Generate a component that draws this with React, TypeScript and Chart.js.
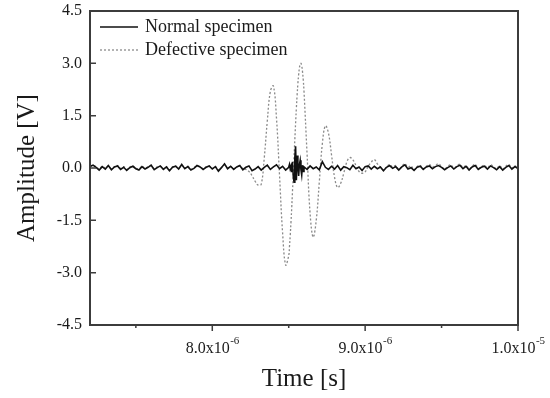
import React, { useEffect, useRef } from "react";
import { Chart, registerables } from "chart.js";

Chart.register(...registerables);

// Time axis in microseconds (labels shown as x10^-6 s)
const timeUs = [
  7.20, 7.22, 7.24, 7.26, 7.28, 7.30, 7.32, 7.34, 7.36, 7.38,
  7.40, 7.42, 7.44, 7.46, 7.48, 7.50, 7.52, 7.54, 7.56, 7.58,
  7.60, 7.62, 7.64, 7.66, 7.68, 7.70, 7.72, 7.74, 7.76, 7.78,
  7.80, 7.82, 7.84, 7.86, 7.88, 7.90, 7.92, 7.94, 7.96, 7.98,
  8.00, 8.02, 8.04, 8.06, 8.08, 8.10, 8.12, 8.14, 8.16, 8.18,
  8.20, 8.22, 8.24, 8.26, 8.28, 8.30, 8.32, 8.34, 8.36, 8.38,
  8.40, 8.42, 8.44, 8.46, 8.48,
  8.500, 8.505, 8.510, 8.515, 8.520, 8.525, 8.530, 8.535, 8.540, 8.545,
  8.550, 8.555, 8.560, 8.565, 8.570, 8.575, 8.580, 8.585, 8.590, 8.595,
  8.600,
  8.62, 8.64, 8.66, 8.68, 8.70, 8.72, 8.74, 8.76, 8.78, 8.80,
  8.82, 8.84, 8.86, 8.88, 8.90, 8.92, 8.94, 8.96, 8.98, 9.00,
  9.02, 9.04, 9.06, 9.08, 9.10, 9.12, 9.14, 9.16, 9.18, 9.20,
  9.22, 9.24, 9.26, 9.28, 9.30, 9.32, 9.34, 9.36, 9.38, 9.40,
  9.42, 9.44, 9.46, 9.48, 9.50, 9.52, 9.54, 9.56, 9.58, 9.60,
  9.62, 9.64, 9.66, 9.68, 9.70, 9.72, 9.74, 9.76, 9.78, 9.80,
  9.82, 9.84, 9.86, 9.88, 9.90, 9.92, 9.94, 9.96, 9.98, 10.00,
];

const normalV = [
  0.05, 0.08, 0.02, -0.06, 0.04, -0.03, 0.07, -0.05, 0.03, 0.06,
  -0.04, 0.02, -0.07, 0.01, 0.05, -0.02, -0.06, 0.04, -0.03, 0.02,
  0.08, -0.05, 0.01, 0.06, -0.04, 0.03, -0.08, 0.02, 0.05, -0.03,
  0.10, -0.02, 0.04, -0.06, -0.01, 0.07, 0.03, -0.04, 0.02, 0.06,
  -0.03, 0.04, -0.09, 0.01, 0.12, -0.02, 0.05, -0.04, 0.03, 0.07,
  -0.05, 0.02, 0.06, -0.08, -0.03, 0.04, -0.06, 0.02, 0.08, -0.04,
  0.03, 0.09, -0.02, 0.05, -0.06,
  0.02, 0.10, -0.03, 0.05, -0.12, 0.18, -0.25, -0.41, 0.30, 0.62,
  -0.35, 0.36, 0.05, -0.23, 0.10, 0.22, -0.05, -0.20, 0.08, -0.10,
  0.03,
  -0.04, 0.06, -0.02, 0.03, -0.05, 0.18, 0.02, -0.04, 0.05, -0.03,
  0.07, -0.06, 0.04, 0.01, -0.05, 0.08, -0.02, 0.03, -0.07, 0.04,
  0.06, -0.03, 0.05, -0.02, 0.03, -0.08, 0.02, 0.07, -0.01, 0.04,
  -0.06, 0.03, 0.09, -0.03, 0.01, -0.07, 0.02, 0.05, -0.04, 0.03,
  0.06, -0.02, 0.04, 0.07, 0.02, -0.05, 0.01, 0.06, -0.03, 0.04,
  0.08, -0.02, 0.05, -0.06, 0.03, 0.07, -0.04, 0.02, 0.05, -0.03,
  0.06, 0.01, -0.05, 0.04, -0.06, 0.02, 0.07, -0.03, 0.04, -0.02,
];

const defectiveV = [
  0.03, 0.06, 0.04, -0.03, 0.05, 0.00, 0.06, -0.02, 0.04, 0.07,
  -0.01, 0.04, -0.04, 0.03, 0.06, 0.00, -0.03, 0.05, -0.01, 0.04,
  0.07, -0.02, 0.03, 0.05, -0.02, 0.04, -0.05, 0.03, 0.06, -0.01,
  0.08, 0.00, 0.05, -0.03, 0.01, 0.06, 0.04, -0.02, 0.03, 0.05,
  -0.01, 0.04, -0.05, 0.02, 0.09, 0.00, 0.04, -0.02, 0.03, 0.05,
  -0.02, -0.04, -0.10, -0.22, -0.38, -0.49, -0.47, 0.29, 1.35, 2.20,
  2.35, 1.43, -0.22, -1.86, -2.78,
  -2.51, -2.25, -1.93, -1.54, -1.11, -0.64, -0.16, 0.33, 0.81, 1.28,
  1.71, 2.09, 2.42, 2.68, 2.87, 2.97, 3.00, 2.93, 2.77, 2.53,
  2.20,
  0.41, -1.31, -1.98, -1.50, -0.41, 0.70, 1.21, 1.00, 0.38, -0.27,
  -0.56, -0.44, -0.15, 0.17, 0.30, 0.23, 0.07, -0.10, -0.15, -0.11,
  0.05, 0.17, 0.24, 0.12, 0.02, -0.06, 0.04, 0.10, 0.03, 0.07,
  -0.04, 0.05, 0.12, 0.02, 0.06, -0.05, 0.04, 0.08, -0.02, 0.05,
  0.10, 0.03, 0.07, 0.12, 0.04, -0.03, 0.05, 0.09, 0.00, 0.06,
  0.11, 0.01, 0.07, -0.03, 0.05, 0.10, -0.01, 0.04, 0.08, 0.00,
  0.09, 0.04, -0.02, 0.07, -0.03, 0.05, 0.10, 0.00, 0.06, -0.04,
];

const seriesNames = ["Normal specimen", "Defective specimen"];
const xMajorTicks = [8, 9, 10];
const xMinorTicks = [7.5, 8.5, 9.5];
const xTickBase = ["8.0x10", "9.0x10", "1.0x10"];
const xTickExp = ["-6", "-6", "-5"];
const yTicks = [-4.5, -3.0, -1.5, 0, 1.5, 3.0, 4.5];

const SERIF = "'Liberation Serif', 'Times New Roman', serif";
const AXIS_COLOR = "#3c3c3c";
const TEXT_COLOR = "#1a1a1a";

const framePlugin = {
  id: "frameTicksLegend",
  afterDraw(chart: any) {
    const { ctx, chartArea } = chart;
    const { left, right, top, bottom } = chartArea;
    const xs = chart.scales.x;
    const ys = chart.scales.y;
    ctx.save();
    // ticks
    ctx.strokeStyle = AXIS_COLOR;
    ctx.lineWidth = 1.5;
    ctx.beginPath();
    xMajorTicks.forEach((v) => {
      const px = xs.getPixelForValue(v);
      ctx.moveTo(px, bottom);
      ctx.lineTo(px, bottom + 6);
    });
    xMinorTicks.forEach((v) => {
      const px = xs.getPixelForValue(v);
      ctx.moveTo(px, bottom);
      ctx.lineTo(px, bottom + 3);
    });
    yTicks.forEach((v) => {
      const py = ys.getPixelForValue(v);
      ctx.moveTo(left, py);
      ctx.lineTo(left + 6, py);
    });
    ctx.stroke();
    // frame
    ctx.lineWidth = 2;
    ctx.strokeRect(left, top, right - left, bottom - top);

    // x tick labels with superscript exponent
    ctx.fillStyle = TEXT_COLOR;
    ctx.textBaseline = "alphabetic";
    ctx.textAlign = "left";
    xMajorTicks.forEach((v, i) => {
      const px = xs.getPixelForValue(v);
      ctx.font = `16px ${SERIF}`;
      const bw = ctx.measureText(xTickBase[i]).width;
      ctx.font = `11px ${SERIF}`;
      const ew = ctx.measureText(xTickExp[i]).width;
      const x0 = px - (bw + ew) / 2;
      ctx.font = `16px ${SERIF}`;
      ctx.fillText(xTickBase[i], x0, bottom + 28);
      ctx.font = `11px ${SERIF}`;
      ctx.fillText(xTickExp[i], x0 + bw + 0.5, bottom + 19);
    });

    // legend
    const lx0 = left + 10;
    const lx1 = left + 48;
    const rows = [top + 16, top + 39];
    ctx.lineWidth = 1.6;
    ctx.strokeStyle = "#111";
    ctx.setLineDash([]);
    ctx.beginPath();
    ctx.moveTo(lx0, rows[0]);
    ctx.lineTo(lx1, rows[0]);
    ctx.stroke();
    ctx.strokeStyle = "#8a8a8a";
    ctx.lineWidth = 1.3;
    ctx.setLineDash([2, 2]);
    ctx.beginPath();
    ctx.moveTo(lx0, rows[1]);
    ctx.lineTo(lx1, rows[1]);
    ctx.stroke();
    ctx.setLineDash([]);
    ctx.fillStyle = TEXT_COLOR;
    ctx.font = `18px ${SERIF}`;
    ctx.textBaseline = "middle";
    ctx.fillText(seriesNames[0], lx1 + 7, rows[0]);
    ctx.fillText(seriesNames[1], lx1 + 7, rows[1]);
    ctx.restore();
  },
};

const zeroPad = (scale: any) => {
  scale.paddingLeft = 0;
  scale.paddingRight = 0;
  scale.paddingTop = 0;
  scale.paddingBottom = 0;
};

export default function App() {
  const canvasRef = useRef<HTMLCanvasElement | null>(null);

  useEffect(() => {
    if (!canvasRef.current) return;
    const normalPts = timeUs.map((t, i) => ({ x: t, y: normalV[i] }));
    const defectPts = timeUs.map((t, i) => ({ x: t, y: defectiveV[i] }));
    const chart = new Chart(canvasRef.current, {
      type: "line",
      data: {
        datasets: [
          {
            label: seriesNames[0],
            data: normalPts,
            borderColor: "#111111",
            borderWidth: 1.6,
            pointRadius: 0,
            tension: 0,
            fill: false,
          },
          {
            label: seriesNames[1],
            data: defectPts,
            borderColor: "#8a8a8a",
            borderWidth: 1.3,
            borderDash: [2, 2],
            pointRadius: 0,
            tension: 0.4,
            fill: false,
          },
        ],
      },
      options: {
        animation: false,
        responsive: false,
        devicePixelRatio: 1,
        layout: { padding: { top: 11, right: 32, left: 0, bottom: 0 } },
        plugins: {
          legend: { display: false },
          tooltip: { enabled: false },
        },
        scales: {
          x: {
            type: "linear",
            min: 7.2,
            max: 10,
            afterBuildTicks: (scale: any) => {
              scale.ticks = xMajorTicks.map((v) => ({ value: v }));
            },
            afterFit: (scale: any) => {
              scale.height = 73;
              zeroPad(scale);
            },
            grid: { display: false, drawTicks: false },
            border: { display: false },
            ticks: {
              display: false,
              callback: (v: any) => {
                const i = xMajorTicks.indexOf(Number(v));
                return i >= 0 ? `${xTickBase[i]}^${xTickExp[i]}` : "";
              },
            },
            title: {
              display: true,
              text: "Time [s]",
              color: TEXT_COLOR,
              font: { family: SERIF, size: 25 },
              padding: { top: 0, bottom: 4 },
            },
          },
          y: {
            type: "linear",
            min: -4.5,
            max: 4.5,
            afterFit: (scale: any) => {
              scale.width = 90;
              zeroPad(scale);
            },
            grid: { display: false, drawTicks: false },
            border: { display: false },
            ticks: {
              stepSize: 1.5,
              padding: 8,
              color: TEXT_COLOR,
              font: { family: SERIF, size: 16 },
              callback: (v: any) => Number(v).toFixed(1),
            },
            title: {
              display: true,
              text: "Amplitude [V]",
              color: TEXT_COLOR,
              font: { family: SERIF, size: 25 },
              padding: { top: 12, bottom: 0 },
            },
          },
        },
      },
      plugins: [framePlugin],
    });
    return () => chart.destroy();
  }, []);

  return (
    <div style={{ position: "absolute", left: 0, top: 0, width: 550, height: 398, background: "#fff" }}>
      <canvas ref={canvasRef} width={550} height={398} style={{ width: 550, height: 398 }} />
    </div>
  );
}
